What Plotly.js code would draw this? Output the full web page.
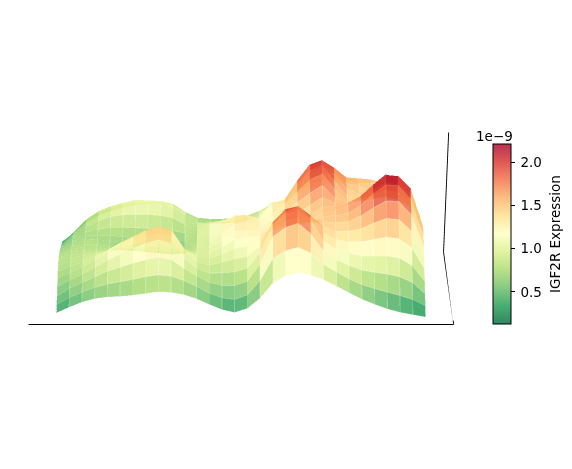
<!DOCTYPE html>
<html><head><meta charset="utf-8">
<script src="https://cdn.plot.ly/plotly-3.0.1.min.js"></script>
<style>html,body{margin:0;padding:0;background:#fff}#c{width:572px;height:469px}</style></head>
<body><div id="c"></div>
<script>
// Expression (in units of 1e-9): one list per x column, front row to back row
var zByColumn = [
[.30,.38,.46,.55,.63,.70,.74,.75,.74,.72,.68,.64,.60,.55,.50,.46,.40,.35,.31,.28],
[.40,.50,.60,.68,.74,.78,.80,.80,.79,.78,.76,.74,.72,.70,.68,.66,.62,.58,.52,.44],
[.49,.60,.70,.78,.84,.86,.85,.84,.82,.80,.78,.76,.75,.73,.72,.72,.74,.76,.74,.62],
[.55,.68,.80,.90,.96,.96,.92,.88,.84,.80,.78,.76,.74,.72,.72,.76,.84,.90,.88,.74],
[.58,.74,.90,1.03,1.10,1.08,1.01,.93,.86,.80,.76,.73,.70,.69,.72,.80,.92,1.00,.97,.82],
[.59,.78,.97,1.13,1.22,1.20,1.10,.98,.88,.80,.74,.70,.67,.67,.70,.80,.95,1.05,1.03,.88],
[.61,.82,1.04,1.24,1.34,1.31,1.18,1.03,.90,.80,.72,.67,.64,.64,.68,.79,.96,1.10,1.08,.92],
[.64,.87,1.10,1.33,1.46,1.42,1.26,1.07,.92,.79,.70,.64,.62,.62,.66,.78,.96,1.09,1.07,.94],
[.67,.90,1.14,1.38,1.53,1.48,1.30,1.09,.92,.78,.68,.62,.60,.60,.64,.76,.94,1.08,1.06,.94],
[.66,.88,1.10,1.32,1.46,1.42,1.25,1.05,.89,.76,.66,.60,.58,.58,.62,.74,.90,1.02,1.01,.90],
[.62,.80,.95,1.06,1.12,1.10,1.02,.92,.82,.74,.68,.64,.62,.62,.64,.70,.78,.88,.86,.80],
[.55,.70,.82,.88,.92,.92,.90,.88,.86,.85,.85,.86,.87,.89,.90,.88,.82,.76,.72,.70],
[.45,.58,.70,.80,.87,.92,.95,.98,1.0,1.02,1.04,1.06,1.05,1.02,.96,.88,.80,.74,.70,.68],
[.36,.50,.65,.80,.92,1.0,1.05,1.10,1.15,1.18,1.20,1.18,1.12,1.05,.96,.88,.80,.74,.70,.68],
[.31,.47,.65,.82,.98,1.10,1.18,1.26,1.32,1.36,1.34,1.26,1.16,1.06,.96,.88,.82,.78,.74,.70],
[.38,.55,.72,.88,1.02,1.13,1.22,1.28,1.33,1.36,1.34,1.28,1.20,1.10,1.00,.92,.86,.82,.78,.74],
[.56,.80,1.02,1.15,1.20,1.22,1.25,1.27,1.27,1.26,1.24,1.20,1.14,1.08,1.02,.98,.94,.90,.86,.82],
[.82,1.18,1.50,1.65,1.62,1.50,1.38,1.28,1.24,1.22,1.22,1.24,1.26,1.28,1.28,1.24,1.18,1.10,1.02,.95],
[.95,1.32,1.66,1.86,1.85,1.70,1.52,1.38,1.28,1.25,1.28,1.34,1.40,1.40,1.35,1.26,1.18,1.10,1.02,.96],
[1.0,1.38,1.74,1.97,1.90,1.76,1.56,1.38,1.30,1.30,1.38,1.50,1.62,1.68,1.68,1.58,1.44,1.30,1.18,1.08],
[.96,1.28,1.55,1.75,1.74,1.62,1.48,1.42,1.40,1.42,1.52,1.66,1.82,1.93,1.96,1.86,1.70,1.52,1.34,1.20],
[.88,1.08,1.25,1.36,1.44,1.48,1.50,1.52,1.52,1.56,1.66,1.80,1.94,2.02,2.04,1.94,1.76,1.58,1.40,1.26],
[.77,.95,1.10,1.22,1.32,1.40,1.48,1.54,1.56,1.56,1.56,1.58,1.66,1.74,1.82,1.84,1.76,1.62,1.46,1.32],
[.65,.83,1.0,1.15,1.28,1.40,1.50,1.58,1.64,1.62,1.56,1.50,1.46,1.48,1.54,1.58,1.60,1.54,1.42,1.30],
[.54,.73,.92,1.10,1.28,1.44,1.60,1.72,1.78,1.74,1.64,1.54,1.46,1.42,1.44,1.50,1.55,1.52,1.42,1.30],
[.45,.66,.88,1.10,1.32,1.54,1.74,1.92,2.00,1.94,1.78,1.62,1.50,1.44,1.44,1.48,1.52,1.50,1.42,1.32],
[.37,.60,.85,1.10,1.36,1.62,1.86,2.08,2.18,2.12,1.92,1.72,1.56,1.46,1.42,1.44,1.46,1.44,1.38,1.30],
[.31,.54,.80,1.06,1.33,1.60,1.85,2.06,2.16,2.08,1.88,1.68,1.52,1.42,1.36,1.34,1.34,1.32,1.28,1.22],
[.27,.47,.70,.93,1.17,1.40,1.62,1.82,1.94,1.86,1.70,1.52,1.38,1.28,1.22,1.18,1.16,1.14,1.10,1.06],
[.23,.36,.50,.65,.80,.95,1.06,1.16,1.22,1.20,1.12,1.04,.96,.90,.86,.82,.80,.78,.76,.74]
];
var rowPositions = [0,.053,.105,.158,.211,.263,.316,.368,.421,.474,.526,.579,.632,.684,.737,.789,.842,.895,.947,1];
var colorStops = ['#006837','#1a9850','#66bd63','#a6d96a','#d9ef8b','#ffffbf','#fee08b','#fdae61','#f46d43','#d73027','#a50026'];
var cbTicks = [0.5,1.0,1.5,2.0];
var cbTickText = ['\u20090.5\u2009','\u20091.0\u2009','\u20091.5\u2009','\u20092.0\u2009'];
var axisX = [-2.2,31.2,null,31.2,30.4,null,30.4,30.8];
var axisY = [0,0,null,0,1,null,1,1];
var axisZ = [0.1,0.1,null,0.1,0.1,null,0.1,2.19];
var zMin=0.13, zMax=2.21;

var nc=zByColumn.length, nr=rowPositions.length, mid=(nc-1)/2, taper=0.03, inset=0.03;
var X=[],Y=[],Z=[],I=[],J=[],K=[],C=[];
function px(c,r){return mid+(c-mid)*(1-taper*rowPositions[r]);}
// back rows first, so that nearer rows are painted over farther ones.
// Each cell is painted twice, full size and slightly inset, so its seams come out paler.
for(var r=nr-2;r>=0;r--)for(var c=0;c<nc-1;c++){
  var zs=[zByColumn[c][r],zByColumn[c+1][r],zByColumn[c+1][r+1],zByColumn[c][r+1]];
  var xs=[px(c,r),px(c+1,r),px(c+1,r+1),px(c,r+1)];
  var ys=[rowPositions[r],rowPositions[r],rowPositions[r+1],rowPositions[r+1]];
  var m=(zs[0]+zs[1]+zs[2]+zs[3])/4, mx=(xs[0]+xs[1]+xs[2]+xs[3])/4, my=(ys[0]+ys[2])/2;
  [0,inset].forEach(function(t){
    var b=X.length;
    for(var q=0;q<4;q++){X.push(xs[q]+(mx-xs[q])*t*2);Y.push(ys[q]+(my-ys[q])*t*2);Z.push(zs[q]+(m-zs[q])*t*2);}
    I.push(b,b);J.push(b+1,b+2);K.push(b+2,b+3);C.push(m,m);
  });
}
var scale=colorStops.map(function(s,i){return [i/(colorStops.length-1),s];});
function fade(h){var n=parseInt(h.slice(1),16),a=0.8;var f=function(v){return Math.round(v*a+255*(1-a));};
  return 'rgb('+f(n>>16)+','+f((n>>8)&255)+','+f(n&255)+')';}
var fadedScale=colorStops.map(function(s,i){return [i/(colorStops.length-1),fade(s)];});
var cbFont={family:'DejaVu Sans',size:13.5,color:'#000'};
var traces=[{type:'mesh3d',x:X,y:Y,z:Z,i:I,j:J,k:K,intensity:C,intensitymode:'cell',colorscale:scale,
  cmin:zMin,cmax:zMax,opacity:0.55,flatshading:true,hoverinfo:'skip',showscale:false,
  lighting:{ambient:1,diffuse:0,specular:0,roughness:1,fresnel:0}},
 {type:'scatter3d',mode:'lines',x:axisX,y:axisY,z:axisZ,connectgaps:false,line:{color:'#000',width:1.8},showlegend:false,hoverinfo:'skip'},
 {type:'scatter3d',mode:'markers',x:[0],y:[0],z:[zMin],hoverinfo:'skip',showlegend:false,
  marker:{size:1,opacity:0,color:[zMin],cmin:zMin,cmax:zMax,colorscale:fadedScale,showscale:true,
  colorbar:{x:493/572,xanchor:'left',y:(469-324)/469,yanchor:'bottom',len:180,lenmode:'pixels',thickness:18,thicknessmode:'pixels',xpad:0,ypad:0,
    outlinecolor:'#000',outlinewidth:1,ticks:'outside',ticklen:4,tickcolor:'#000',tickvals:cbTicks,ticktext:cbTickText,
    tickfont:cbFont,title:{text:'IGF2R Expression',side:'right',font:cbFont}}}}];
var hid={visible:false,showspikes:false};
var layout={width:572,height:469,margin:{l:0,r:0,t:0,b:0},paper_bgcolor:'#fff',showlegend:false,font:{family:'DejaVu Sans'},
 scene:{domain:{x:[0,482/572],y:[0.025,1]},aspectmode:'manual',aspectratio:{x:1.862,y:1.862,z:0.531},
  xaxis:Object.assign({range:[-2.2,31.2]},hid),yaxis:Object.assign({range:[0,1]},hid),zaxis:Object.assign({range:[0.1,2.19]},hid),
  camera:{projection:{type:'orthographic'},up:{x:0,y:0,z:1},center:{x:0,y:0,z:0},eye:{x:0,y:-3,z:0.518}}},
 annotations:[{xref:'paper',yref:'paper',x:474/572,y:(469-136)/469,xanchor:'left',yanchor:'middle',showarrow:false,text:'1e−9',font:cbFont}]};
Plotly.newPlot('c',traces,layout,{displayModeBar:false});
</script></body></html>
